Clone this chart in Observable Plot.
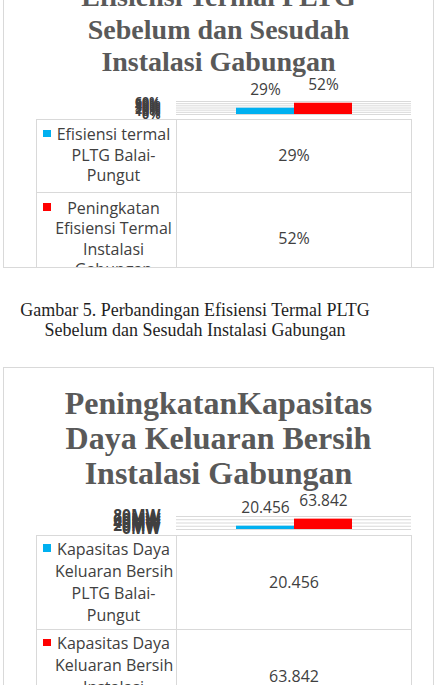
<!DOCTYPE html>
<html>
<head>
<meta charset="utf-8">
<script src="https://cdn.jsdelivr.net/npm/d3@7"></script>
<script src="https://cdn.jsdelivr.net/npm/@observablehq/plot@0.6"></script>
<style>
  body { margin: 0; background: #fff; }
  #page { position: relative; width: 439px; height: 685px; overflow: hidden; background: #fff; }
  .box { position: absolute; border: 1px solid #d9d9d9; box-sizing: border-box; overflow: hidden; background: #fff; }
  .title { position: absolute; left: 0; right: 0; text-align: center; font-family: "Liberation Serif", "Times New Roman", serif; font-weight: bold; color: #595959; white-space: nowrap; }
  .cell { position: absolute; font-family: "Open Sans", sans-serif; font-size: 16px; color: #404040; text-align: center; white-space: nowrap; }
  .hl { position: absolute; height: 0; border-top: 1px solid #d9d9d9; }
  .vl { position: absolute; width: 0; border-left: 1px solid #d9d9d9; }
  .key { position: absolute; width: 7.5px; height: 7.5px; }
  .caption { position: absolute; left: 0; width: 390px; text-align: center; font-family: "Liberation Serif", "Times New Roman", serif; font-size: 18px; line-height: 20.7px; color: #1f1f1f; white-space: nowrap; }
  .chart { position: absolute; }
</style>
</head>
<body>
<div id="page"></div>
<script>
// ---------- data ----------
const seriesColors = ["#00b0f0", "#ff0000"];

const effTitle = ["Efisiensi Termal PLTG", "Sebelum dan Sesudah", "Instalasi Gabungan"];
const effSeries = ["Efisiensi termal PLTG Balai-Pungut", "Peningkatan Efisiensi Termal Instalasi Gabungan"];
const effLegendLines = [
  ["Efisiensi termal", "PLTG Balai-", "Pungut"],
  ["Peningkatan", "Efisiensi Termal", "Instalasi", "Gabungan"]
];
const effValues = [0.29, 0.52];
const effLabels = ["29%", "52%"];
const effTicks = [0, 0.1, 0.2, 0.3, 0.4, 0.5, 0.6];

const captionLines = ["Gambar 5. Perbandingan Efisiensi Termal PLTG", "Sebelum dan Sesudah Instalasi Gabungan"];

const capTitle = ["PeningkatanKapasitas", "Daya Keluaran Bersih", "Instalasi Gabungan"];
const capSeries = ["Kapasitas Daya Keluaran Bersih PLTG Balai-Pungut", "Kapasitas Daya Keluaran Bersih Instalasi Gabungan"];
const capLegendLines = [
  ["Kapasitas Daya", "Keluaran Bersih", "PLTG Balai-", "Pungut"],
  ["Kapasitas Daya", "Keluaran Bersih", "Instalasi", "Gabungan"]
];
const capValues = [20.456, 63.842];
const capLabels = ["20.456", "63.842"];
const capTicks = [0, 20, 40, 60, 80];

// ---------- layout ----------
const page = document.getElementById("page");
const BOX_LEFT = 3;

function el(parent, cls, css, html) {
  const d = document.createElement("div");
  d.className = cls;
  Object.assign(d.style, css);
  if (html != null) d.innerHTML = html;
  parent.appendChild(d);
  return d;
}

function figure(cfg) {
  const box = el(page, "box", { left: BOX_LEFT + "px", top: cfg.boxTop + "px", width: "431px", height: cfg.boxHeight + "px" });
  const rx = x => (x - BOX_LEFT - 1) + "px";
  const ry = y => (y - cfg.boxTop - 1) + "px";

  // title
  el(box, "title", { top: ry(cfg.titleTop), fontSize: cfg.titleSize + "px", lineHeight: cfg.titleLH + "px" },
     cfg.titleLines.join("<br>"));

  // chart (Plot)
  const data = cfg.series.map((s, i) => ({ series: s, value: cfg.values[i], label: cfg.labels[i] }));
  const chart = Plot.plot({
    width: 311,
    height: 44,
    marginLeft: 76,
    marginRight: 0,
    marginTop: 31,
    marginBottom: 0,
    style: { fontFamily: "Open Sans", overflow: "visible", background: "none", color: "#404040" },
    x: { type: "band", domain: cfg.series, paddingInner: 0, paddingOuter: 1, axis: null },
    y: { domain: cfg.domain, axis: null },
    color: { domain: cfg.series, range: seriesColors },
    marks: [
      Plot.gridY(cfg.ticks, { stroke: "#d9d9d9", strokeOpacity: 1 }),
      Plot.barY(data, { x: "series", y: "value", fill: "series" }),
      Plot.text(data, { x: "series", y: "value", text: "label", dy: cfg.labelDy, fontSize: 15.5, fill: "#404040" }),
      Plot.axisY(cfg.ticks, { label: null, tickSize: 0, tickPadding: 16, tickFormat: cfg.tickFormat, fontSize: cfg.tickFontSize, fontWeight: cfg.tickWeight, fill: "#404040" })
    ]
  });
  const holder = el(box, "chart", { left: rx(100), top: ry(cfg.chartTop) });
  holder.appendChild(chart);

  // data table
  const lh = cfg.lineH;
  let y0 = cfg.tableTop;
  const rowEdges = [y0];
  cfg.legendLines.forEach(lines => { y0 += lines.length * lh + cfg.rowPad; rowEdges.push(y0); });
  rowEdges.forEach(y => el(box, "hl", { left: rx(36), top: ry(y), width: "375px" }));
  [36, 176, 411].forEach(x => el(box, "vl", { left: rx(x), top: ry(cfg.tableTop), height: (rowEdges[rowEdges.length - 1] - cfg.tableTop) + "px" }));

  cfg.legendLines.forEach((lines, i) => {
    const center = (rowEdges[i] + rowEdges[i + 1]) / 2;
    const textTop = center - lines.length * lh / 2;
    el(box, "cell", { left: rx(55), width: "117px", top: ry(textTop), lineHeight: lh + "px" }, lines.join("<br>"));
    el(box, "key", { left: rx(43), top: ry(textTop + lh / 2 - 4.75), background: seriesColors[i] });
    el(box, "cell", { left: rx(177), width: "234px", top: ry(center - lh / 2), lineHeight: lh + "px" }, cfg.labels[i]);
  });
}

figure({
  boxTop: -40, boxHeight: 308,
  titleLines: effTitle, titleTop: -18.75, titleSize: 28, titleLH: 32.5,
  series: effSeries, values: effValues, labels: effLabels,
  ticks: effTicks, domain: [0, 0.6], tickFormat: d => Math.round(d * 100) + "%", tickFontSize: 12.5, tickWeight: "bold",
  chartTop: 70, labelDy: -18,
  legendLines: effLegendLines, tableTop: 118.5, lineH: 20.5, rowPad: 11.7
});

el(page, "caption", { top: "299.5px" }, captionLines.join("<br>"));

figure({
  boxTop: 367, boxHeight: 400,
  titleLines: capTitle, titleTop: 386.2, titleSize: 32, titleLH: 35,
  series: capSeries, values: capValues, labels: capLabels,
  ticks: capTicks, domain: [0, 80], tickFormat: d => d + "MW", tickFontSize: 15.5, tickWeight: "bold",
  chartTop: 485, labelDy: -18,
  legendLines: capLegendLines, tableTop: 535, lineH: 22, rowPad: 6.3
});
</script>
</body>
</html>
